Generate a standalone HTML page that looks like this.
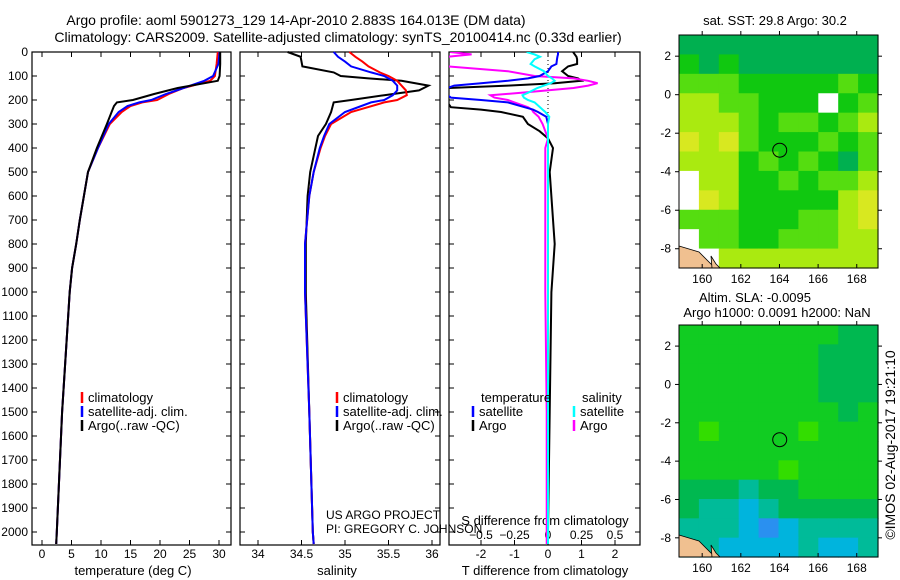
<!DOCTYPE html>
<html><head><meta charset="utf-8"><style>
body{margin:0;background:#fff}
svg{display:block;font-family:"Liberation Sans",sans-serif;font-size:12px}
.big{font-size:14px}
.mid{font-size:13px}
</style></head><body>
<svg id="fig" width="900" height="580" viewBox="0 0 900 580">
<text class="big" x="296" y="25" text-anchor="middle">Argo profile: aoml 5901273_129 14-Apr-2010 2.883S 164.013E (DM data)</text>
<text class="big" x="338" y="42" text-anchor="middle">Climatology: CARS2009. Satellite-adjusted climatology: synTS_20100414.nc (0.33d earlier)</text>
<g id="layer"></g>
</svg>
<script>
// ---- profile data ----
const tDepth=[0,50,100,120,150,175,200,210,225,250,300,400,500,600,700,800,900,1000,1500,2000,2050];
const tArgo=[30.2,30.2,30.1,29.8,23,19,15.4,12.7,12.2,11.8,11,9.3,7.8,7.1,6.4,5.8,5.1,4.7,3.4,2.5,2.4];
const tClim=[29.8,29.6,29.3,28.5,24,21.5,19.5,17,15,13.5,11.5,9.5,7.8,7.1,6.4,5.8,5.1,4.7,3.4,2.5,2.4];
const tSat=[30.1,29.9,29.0,27.5,24,21,18.5,16.5,14.5,13,11.3,9.5,7.8,7.1,6.4,5.8,5.1,4.7,3.4,2.5,2.4];
const sDepth=[0,20,40,60,85,100,110,120,140,160,180,200,210,250,300,350,400,500,600,800,1000,1500,2000,2050];
const sArgo=[34.34,34.49,34.5,34.51,34.87,34.95,35.27,35.65,35.96,35.85,35.45,35.07,34.87,34.84,34.78,34.69,34.66,34.6,34.57,34.55,34.55,34.59,34.63,34.64];
const sClim=[35.05,35.12,35.2,35.27,35.4,35.5,35.55,35.6,35.65,35.7,35.71,35.6,35.45,35.07,34.84,34.77,34.72,34.64,34.59,34.54,34.54,34.59,34.63,34.64];
const sSat=[34.87,34.92,35.0,35.07,35.3,35.45,35.5,35.55,35.6,35.6,35.55,35.45,35.3,35.0,34.82,34.76,34.71,34.64,34.59,34.54,34.54,34.59,34.63,34.64];
const dDepth=[0,10,20,30,50,60,80,100,110,120,130,140,150,170,180,190,200,210,230,240,250,270,300,330,360,400,500,800,1000,1500,2000,2050];
const dTArgo=[0.75,0.8,0.85,0.87,0.87,0.6,0.42,0.6,0.9,1.0,0.2,-1.2,-3,-3,-3,-3,-3,-3,-2.9,-2,-1.4,-0.75,-0.6,-0.25,0,0.15,0.05,0.2,0.1,0.05,0,0];
const dTSat=[0.3,0.3,0.28,0.27,0.25,0.1,0,-0.25,-0.6,-1.2,-2,-2.8,-3,-3,-3,-2.9,-2,-1.2,-0.7,-0.45,-0.3,-0.05,0,0,0,0,0,0,0,0,0,0];
const dSArgo=[-0.73,-0.57,-0.75,-0.75,-0.75,-0.75,-0.3,-0.1,0.19,0.3,0.37,0.3,0.19,-0.2,-0.43,-0.4,-0.3,-0.25,-0.15,-0.12,-0.11,-0.07,-0.04,-0.02,0,-0.02,-0.02,-0.02,-0.02,-0.01,-0.01,-0.01];
const dSSat=[-0.16,-0.1,-0.06,-0.1,-0.13,-0.1,-0.03,0,0.03,0.05,0.02,-0.03,-0.08,-0.15,-0.19,-0.18,-0.15,-0.1,-0.06,-0.04,-0.02,0.01,0,0,0,0,0,0,0,0,0,0];
const tTicks=[0,5,10,15,20,25,30];
const sTicks=[34,34.5,35,35.5,36];
const dTTicks=[-2,-1,0,1,2];
const dSTicks=[-0.5,-0.25,0,0.25,0.5];
const depthTicks=[0,100,200,300,400,500,600,700,800,900,1000,1100,1200,1300,1400,1500,1600,1700,1800,1900,2000];
// ---- map data ----
const lonTicks=[160,162,164,166,168];
const latTicks=[2,0,-2,-4,-6,-8];
const sstGrid=[
"0000000000","1010000000","2221111121","3322111W12","3332122123","4342111212",
"3331212102","W331121223","W431111134","2221112234","W221122233","WW33333333"];
const slaGrid=[
"1111111122","1111111222","1111111222","1111111222","1111111121","1011110111",
"1111111111","1111101111","2223221111","2334322222","3334543333","3344443443"];
const argoLon=164.013, argoLat=-2.883;

const NS="http://www.w3.org/2000/svg";
const L=document.getElementById('layer');
function mk(tag,attrs,parent){const e=document.createElementNS(NS,tag);for(const k in attrs)e.setAttribute(k,attrs[k]);(parent||L).appendChild(e);return e;}
function lin(d0,d1,r0,r1){return v=>r0+(v-d0)*(r1-r0)/(d1-d0);}
const yD=lin(0,2000,52,532);

function panel(x0,x1,name){
  const r=mk('rect',{x:x0,y:52,width:x1-x0,height:493,fill:'none',stroke:'#000','stroke-width':1.2});
  
  
  depthTicks.forEach(d=>{mk('line',{x1:x0,x2:x0+5,y1:yD(d),y2:yD(d),stroke:'#000'});mk('line',{x1:x1,x2:x1-5,y1:yD(d),y2:yD(d),stroke:'#000'});});
}
function line(xs,ds,sx,color,name,w){
  let pts=xs.map((v,i)=>sx(v).toFixed(1)+','+yD(ds[i]).toFixed(1)).join(' ');
  const p=mk('polyline',{points:pts,fill:'none',stroke:color,'stroke-width':w||2});
  
  
}
function txt(x,y,s,anchor,name,cls){const t=mk('text',{x:x,y:y,'text-anchor':anchor||'start'});t.textContent=s;
  if(cls)t.setAttribute('class',cls);
  
  
  return t;}

// Panel 1 temperature
const xT=lin(0,30,42,219);
panel(32,231,'temperature-panel');
depthTicks.forEach(d=>txt(28,yD(d)+4,String(d),'end','depth-tick-label'));
tTicks.forEach(v=>{mk('line',{x1:xT(v),x2:xT(v),y1:545,y2:540,stroke:'#000'});mk('line',{x1:xT(v),x2:xT(v),y1:52,y2:57,stroke:'#000'});txt(xT(v),558,String(v),'middle','temperature-tick-label');});
txt(133,575,'temperature (deg C)','middle','temperature-axis-title','mid');
line(tClim,tDepth,xT,'#f00','temp-climatology-line');
line(tSat,tDepth,xT,'#00f','temp-satellite-line');
line(tArgo,tDepth,xT,'#000','temp-argo-line');

// Panel 2 salinity
const xS=lin(34,36,258,432);
panel(240,440,'salinity-panel');
sTicks.forEach(v=>{mk('line',{x1:xS(v),x2:xS(v),y1:545,y2:540,stroke:'#000'});mk('line',{x1:xS(v),x2:xS(v),y1:52,y2:57,stroke:'#000'});txt(xS(v),558,String(v),'middle','salinity-tick-label');});
txt(337,575,'salinity','middle','salinity-axis-title','mid');
line(sArgo,sDepth,xS,'#000','sal-argo-line');
line(sClim,sDepth,xS,'#f00','sal-climatology-line');
line(sSat,sDepth,xS,'#00f','sal-satellite-line');

// legends
function leg(x,y,c,s,name){mk('line',{x1:x,x2:x,y1:y-10,y2:y+1,stroke:c,'stroke-width':2.5});txt(x+6,y,s,'start',name,'mid');}
[[82,'temp'],[337,'sal']].forEach(([x,n])=>{
  leg(x,402,'#f00','climatology',n+'-legend-climatology');
  leg(x,416,'#00f','satellite-adj. clim.',n+'-legend-satellite');
  leg(x,430,'#000','Argo(..raw -QC)',n+'-legend-argo');
});
txt(326,519,'US ARGO PROJECT','start','credit-project');
txt(326,533,'PI: GREGORY C. JOHNSON','start','credit-pi');

// Panel 3 differences
const xDT=lin(0,1,548,581.5);
const xDS=lin(0,1,548,682);
panel(449,640,'difference-panel');
mk('line',{x1:548,x2:548,y1:52,y2:545,stroke:'#000','stroke-dasharray':'1,3'});
dTTicks.forEach(v=>{mk('line',{x1:xDT(v),x2:xDT(v),y1:545,y2:540,stroke:'#000'});txt(xDT(v),558,String(v),'middle','t-diff-tick-label');});
dSTicks.forEach(v=>{mk('line',{x1:xDS(v),x2:xDS(v),y1:52,y2:57,stroke:'#000'});txt(xDS(v),539,String(v).replace('-','\u2212'),'middle','s-diff-tick-label');});
txt(545,525,'S difference from climatology','middle','s-diff-axis-title','mid');
txt(545,575,'T difference from climatology','middle','t-diff-axis-title','mid');
const clipP=mk('clipPath',{id:'cp3'});mk('rect',{x:449,y:52,width:191,height:493},clipP);
const g3=mk('g',{'clip-path':'url(#cp3)'});
function line3(xs,sx,c,name){let pts=xs.map((v,i)=>sx(v).toFixed(1)+','+yD(dDepth[i]).toFixed(1)).join(' ');
  const p=mk('polyline',{points:pts,fill:'none',stroke:c,'stroke-width':2},g3);
  
  }
line3(dTArgo,xDT,'#000','t-diff-argo-line');
line3(dSArgo,xDS,'#f0f','s-diff-argo-line');
line3(dTSat,xDT,'#00f','t-diff-satellite-line');
line3(dSSat,xDS,'#0ff','s-diff-satellite-line');
txt(481,402,'temperature','start','legend-temperature-heading','mid');
txt(582,402,'salinity','start','legend-salinity-heading','mid');
leg(473,416,'#00f','satellite','legend-t-satellite');
leg(473,430,'#000','Argo','legend-t-argo');
leg(574,416,'#0ff','satellite','legend-s-satellite');
leg(574,430,'#f0f','Argo','legend-s-argo');

// maps
const sstCols={'0':'#00b050','1':'#10c810','2':'#55dd10','3':'#aaea10','4':'#d8e820','W':'#ffffff'};
const slaCols={'0':'#33dd00','1':'#11cc22','2':'#00b850','3':'#00bb99','4':'#00b4dd','5':'#2a90f0'};
function map(y0,y1,grid,cols,name,titleLines){
  const x0=679,x1=878;
  const xL=lin(158.8,169.1,x0,x1), yL=lin(3.1,-9,y0,y1);
  const ncol=grid[0].length,nrow=grid.length,cw=(x1-x0)/ncol,ch=(y1-y0)/nrow;
  grid.forEach((row,r)=>{for(let c=0;c<ncol;c++){
    const cell=mk('rect',{x:x0+c*cw,y:y0+r*ch,width:cw+0.6,height:ch+0.6,fill:cols[row[c]]});
    
    
  }});
  mk('path',{d:`M${x0},${y1-22} l20,6 l12,12 l8,4 l-40,0 z`,fill:'#f0c090',stroke:'#000','stroke-width':0.8});
  mk('path',{d:`M${x0+32},${y1-12} l5,8 l4,4 l-8,0 z`,fill:'#f0c090',stroke:'#000','stroke-width':0.8});
  const fr=mk('rect',{x:x0,y:y0,width:x1-x0,height:y1-y0,fill:'none',stroke:'#000','stroke-width':1});
  
  
  lonTicks.forEach(v=>{mk('line',{x1:xL(v),x2:xL(v),y1:y1,y2:y1-4,stroke:'#000'});mk('line',{x1:xL(v),x2:xL(v),y1:y0,y2:y0-4,stroke:'#000'});txt(xL(v),y1+15,String(v),'middle',name+'-lon-label');});
  latTicks.forEach(v=>{mk('line',{x1:x0,x2:x0-4,y1:yL(v),y2:yL(v),stroke:'#000'});mk('line',{x1:x1,x2:x1+4,y1:yL(v),y2:yL(v),stroke:'#000'});txt(x0-8,yL(v)+4,String(v),'end',name+'-lat-label');});
  const c=mk('circle',{cx:xL(argoLon),cy:yL(argoLat),r:7,fill:'none',stroke:'#000'});
  
  
  titleLines.forEach(t=>txt(t[0],t[1],t[2],'middle',name+'-title','mid'));
}
map(35,268,sstGrid,sstCols,'sst-map',[[775,25,'sat. SST: 29.8 Argo: 30.2']]);
map(325,557,slaGrid,slaCols,'sla-map',[[755,302,'Altim. SLA: -0.0095'],[777,317,'Argo h1000: 0.0091 h2000: NaN']]);
const im=txt(0,0,'\u00a9IMOS 02-Aug-2017 19:21:10','middle','imos-timestamp','big');
im.setAttribute('transform','translate(895,445) rotate(-90)');
</script>
</body></html>
